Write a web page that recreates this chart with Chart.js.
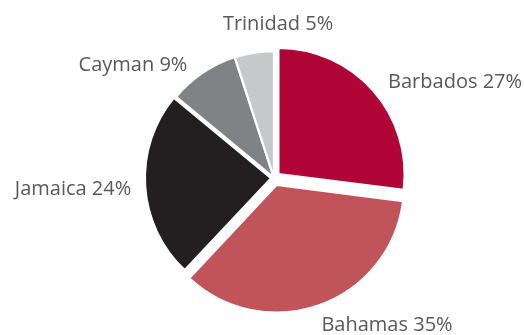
<!DOCTYPE html>
<html>
<head>
<meta charset="utf-8">
<script src="https://cdn.jsdelivr.net/npm/chart.js@4/dist/chart.umd.min.js"></script>
<style>
  html, body { margin: 0; padding: 0; background: #fff; }
  #wrap { width: 524px; height: 335px; position: relative; }
</style>
</head>
<body>
<div id="wrap"><canvas id="pie"></canvas></div>
<script>
// dados do grafico
const islands = ["Barbados", "Bahamas", "Jamaica", "Cayman", "Trinidad"];
const shares = [27, 35, 24, 9, 5];
const sliceColors = ["#B10538", "#C1535A", "#231F20", "#808285", "#C7C8CA"];

// deslocamento de cada fatia (explodida)
const sliceOffsets = [24, 30, 12, 3, 2];

// posicao dos rotulos, relativa ao centro, em unidades do raio
const labelSpots = [[1.437, -0.762], [0.897, 1.167], [-1.595, 0.087], [-1.119, -0.897], [0.032, -1.222]];

const outsideLabels = {
  id: "outsideLabels",
  afterDatasetsDraw(chart) {
    const { ctx } = chart;
    const arcs = chart.getDatasetMeta(0).data;
    ctx.save();
    ctx.font = "20px 'Open Sans', sans-serif";
    ctx.fillStyle = "#595959";
    ctx.textAlign = "center";
    ctx.textBaseline = "middle";
    arcs.forEach((arc, i) => {
      const r = arc.outerRadius;
      const [fx, fy] = labelSpots[i];
      ctx.fillText(`${chart.data.labels[i]} ${chart.data.datasets[0].data[i]}%`, arc.x + fx * r, arc.y + fy * r);
    });
    ctx.restore();
  }
};

new Chart(document.getElementById("pie").getContext("2d"), {
  type: "pie",
  data: {
    labels: islands,
    datasets: [{
      data: shares,
      backgroundColor: sliceColors,
      borderColor: "#ffffff",
      borderWidth: 2,
      offset: sliceOffsets
    }]
  },
  options: {
    responsive: true,
    maintainAspectRatio: false,
    animation: false,
    layout: { padding: { left: 132, right: 108, top: 36, bottom: 15 } },
    plugins: {
      legend: { display: false },
      tooltip: { enabled: false }
    }
  },
  plugins: [outsideLabels]
});
</script>
</body>
</html>
